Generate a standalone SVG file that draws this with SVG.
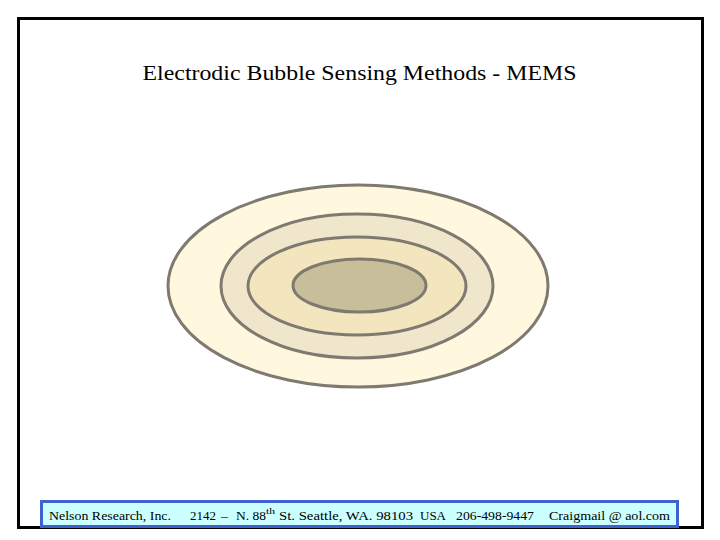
<svg xmlns="http://www.w3.org/2000/svg" width="720" height="540" viewBox="0 0 720 540">
<style>
.ring{stroke:#7f7a70;stroke-width:3}
.serif{font-family:"Liberation Serif","Times New Roman",serif;fill:#000}
.foot{font-size:13.5px}
</style>
<rect x="0" y="0" width="720" height="540" fill="#ffffff"/>
<rect id="frame" x="18.5" y="18.5" width="684" height="509" fill="none" stroke="#000" stroke-width="3"/>
<text id="title" class="serif" x="359.5" y="80" font-size="22" text-anchor="middle" textLength="434" lengthAdjust="spacingAndGlyphs">Electrodic Bubble Sensing Methods - MEMS</text>
<g id="rings">
<ellipse id="ring1" class="ring" cx="358" cy="286" rx="190" ry="101" fill="#fff8de"/>
<ellipse id="ring2" class="ring" cx="357" cy="286" rx="136" ry="72" fill="#f0e6cc"/>
<ellipse id="ring3" class="ring" cx="357" cy="286" rx="109" ry="49" fill="#f3e5bd"/>
<ellipse id="ring4" class="ring" cx="359.5" cy="285.5" rx="66.5" ry="26.5" fill="#c8be9a"/>
</g>
<g id="footer">
<rect x="41.5" y="501.5" width="636" height="25" fill="#ccffff" stroke="#4062d0" stroke-width="3"/>
<text class="serif foot" x="49" y="520" textLength="122" lengthAdjust="spacingAndGlyphs">Nelson Research, Inc.</text>
<text class="serif foot" x="190" y="520" textLength="26" lengthAdjust="spacingAndGlyphs">2142</text>
<text class="serif foot" x="221" y="520">–</text>
<text class="serif foot" x="236" y="520" textLength="30" lengthAdjust="spacingAndGlyphs">N. 88</text>
<text class="serif" x="266" y="514" font-size="8.5" textLength="9" lengthAdjust="spacingAndGlyphs">th</text>
<text class="serif foot" x="279" y="520" textLength="134" lengthAdjust="spacingAndGlyphs">St. Seattle, WA. 98103</text>
<text class="serif foot" x="420" y="520" textLength="26" lengthAdjust="spacingAndGlyphs">USA</text>
<text class="serif foot" x="456" y="520" textLength="78" lengthAdjust="spacingAndGlyphs">206-498-9447</text>
<text class="serif foot" x="549" y="520" textLength="121" lengthAdjust="spacingAndGlyphs">Craigmail @ aol.com</text>
</g>
</svg>
